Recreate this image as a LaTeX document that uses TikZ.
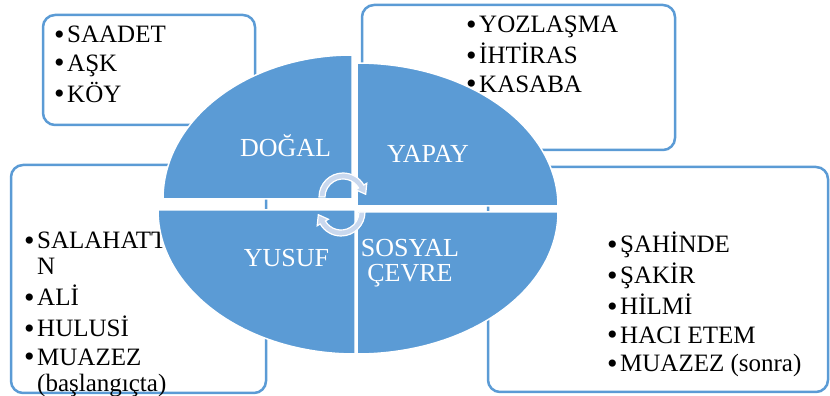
\documentclass[tikz,border=0pt]{standalone}
\usepackage{fontspec}
\setmainfont{Liberation Serif}
\usetikzlibrary{calc}
\definecolor{segblue}{HTML}{5B9BD5}
\definecolor{arrowpale}{HTML}{C9D8EE}
\tikzset{
  listbox/.style={draw=segblue,line width=2.5pt,rounded corners=12pt},
  quad/.style={fill=segblue,draw=white,line width=1.5pt},
  seglabel/.style={text=white,font=\fontsize{26}{24}\selectfont,anchor=base,inner sep=0pt},
  listtext/.style={font=\fontsize{25}{26}\selectfont,anchor=base west,inner sep=0pt},
  cyclearrow/.style={fill=arrowpale,draw=white,line width=1.2pt}
}
\newcommand{\bdot}{\raisebox{-1.5pt}{\scalebox{1.2}{\textbullet}}}
\newcommand{\bitem}[1]{\bdot\hspace{2.5pt}#1}
\newcommand{\bcont}[1]{\phantom{\bdot}\hspace{2.5pt}#1}

\begin{document}
\begin{tikzpicture}[x=1pt,y=1pt]
\useasboundingbox (0,0) rectangle (830,396);
% list boxes (behind the segments)
\draw[listbox] (43,271) rectangle (255,381);
\draw[listbox] (362,246) rectangle (675,391);
\draw[listbox] (11,3) rectangle (266,231);
\draw[listbox] (488,4) rectangle (828,229);
% list texts
\node[listtext] (dogallist) at (54,353) {\begin{tabular}[t]{@{}l@{}}\bitem{SAADET}\\[2.5pt] \bitem{AŞK}\\[2.5pt] \bitem{KÖY}\end{tabular}};
\node[listtext] (yapaylist) at (466,363) {\begin{tabular}[t]{@{}l@{}}\bitem{YOZLAŞMA}\\[2.5pt] \bitem{İHTİRAS}\\[2.5pt] \bitem{KASABA}\end{tabular}};
\node[listtext] (yusuflist) at (24,147) {\begin{tabular}[t]{@{}l@{}}\bitem{SALAHATTİ}\\ \bcont{N}\\[2.5pt] \bitem{ALİ}\\[2.5pt] \bitem{HULUSİ}\\[2.5pt] \bitem{MUAZEZ}\\ \bcont{(başlangıçta)}\end{tabular}};
\node[listtext] (sosyallist) at (607,143) {\begin{tabular}[t]{@{}l@{}}\bitem{ŞAHİNDE}\\[2.5pt] \bitem{ŞAKİR}\\[2.5pt] \bitem{HİLMİ}\\[2.5pt] \bitem{HACI ETEM}\\[2.5pt] \bitem{MUAZEZ (sonra)}\end{tabular}};
% four segments
\coordinate (ulc) at (352,197);
\coordinate (urc) at (357,190);
\coordinate (llc) at (355,186);
\coordinate (lrc) at (357,184);
\filldraw[quad] (ulc) -- ++(-189pt,0) arc[start angle=180,end angle=90,x radius=189pt,y radius=144pt] -- cycle;
\filldraw[quad] (urc) -- ++(0,143pt) arc[start angle=90,end angle=0,x radius=201pt,y radius=143pt] -- cycle;
\filldraw[quad] (llc) -- ++(0,-144pt) arc[start angle=270,end angle=180,x radius=197pt,y radius=144pt] -- cycle;
\filldraw[quad] (lrc) -- ++(201pt,0) arc[start angle=0,end angle=-90,x radius=201pt,y radius=142pt] -- cycle;
% segment labels
\node[seglabel] (dogal) at (285.5,239) {DOĞAL};
\node[seglabel] (yapay) at (428,233) {YAPAY};
\node[seglabel] (yusuf) at (286.5,129) {YUSUF};
\node[seglabel] (sosyal) at (410,139) {\begin{tabular}[t]{@{}c@{}}SOSYAL\\ÇEVRE\end{tabular}};
% cycle arrows
\coordinate (cu) at (343,199);
\coordinate (cl) at (341,184);
\filldraw[cyclearrow] ($(cu)+(180:24pt)$) arc[start angle=180,end angle=30,radius=24pt]
  -- ($(cu)+(30:27.5pt)$) -- ($(cu)+(30:21pt)+(-60:9pt)$) -- ($(cu)+(30:14.5pt)$)
  -- ($(cu)+(30:18pt)$) arc[start angle=30,end angle=180,radius=18pt] -- cycle;
\filldraw[cyclearrow] ($(cl)+(0:24pt)$) arc[start angle=0,end angle=-150,radius=24pt]
  -- ($(cl)+(-150:27.5pt)$) -- ($(cl)+(-150:21pt)+(120:9pt)$) -- ($(cl)+(-150:14.5pt)$)
  -- ($(cl)+(-150:18pt)$) arc[start angle=-150,end angle=0,radius=18pt] -- cycle;
\end{tikzpicture}
\end{document}
